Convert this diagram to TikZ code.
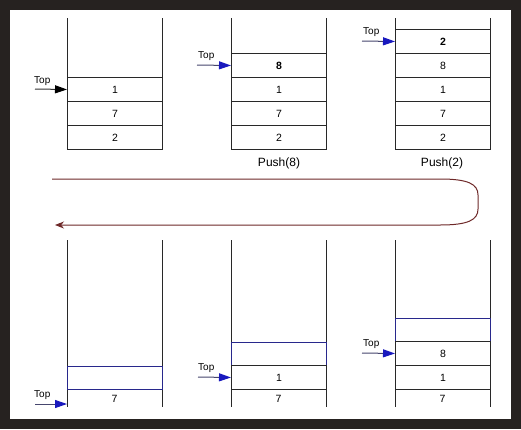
\documentclass[tikz,border=0pt]{standalone}
\usepackage{fontspec}
\setmainfont{Liberation Sans}
\usetikzlibrary{arrows.meta}
\definecolor{framedark}{RGB}{38,34,32}
\definecolor{cellline}{RGB}{40,40,40}
\definecolor{ptrblue}{RGB}{25,25,190}
\definecolor{shaft}{RGB}{70,70,110}
\definecolor{newbox}{RGB}{40,40,140}
\definecolor{loopred}{RGB}{110,40,40}
\tikzset{
  cell/.style={draw=cellline, line width=1pt, minimum width=95pt, minimum height=24pt,
    inner sep=0pt, font=\fontsize{10.5}{12}\selectfont, anchor=north west},
  topcell/.style={cell, font=\fontsize{10.5}{12}\selectfont\bfseries},
  newcell/.style={cell, draw=newbox, line width=1.4pt, minimum height=23pt},
  wall/.style={draw=cellline, line width=1pt},
  val/.style={font=\fontsize{10.5}{12}\selectfont, inner sep=0pt},
  toplbl/.style={font=\fontsize{10}{11}\selectfont, inner sep=0pt, anchor=south west},
  ptr/.style={draw=shaft, line width=1pt, -{Triangle[length=12pt,width=8pt,color=ptrblue]}},
  ptrblack/.style={draw=black!80, line width=1pt, -{Triangle[length=12pt,width=8pt,color=black]}},
  pushlbl/.style={font=\fontsize{12}{14}\selectfont, inner sep=0pt},
  loopline/.style={draw=loopred, line width=1pt, -{Stealth[length=9pt,width=7pt,color=loopred]}}
}
\begin{document}
\begin{tikzpicture}[x=1pt,y=-1pt]
\useasboundingbox (0,0) rectangle (521,429);
\fill[framedark] (0,0) rectangle (521,429);
\fill[white] (10,10) rectangle (511,419);

% ---------- Stack 1 ----------
\coordinate (s1tl) at (67,18); \coordinate (s1bl) at (67,149);
\coordinate (s1tr) at (162,18); \coordinate (s1br) at (162,149);
\draw[wall] (s1tl) -- (s1bl); \draw[wall] (s1tr) -- (s1br);
\node[cell] (a1) at (67,77) {1};
\node[cell] (a2) at (67,101) {7};
\node[cell] (a3) at (67,125) {2};
\coordinate (p1) at (35,89);
\node[toplbl] (t1) at (34,86) {Top};
\draw[ptrblack] (p1) -- (a1.west);

% ---------- Stack 2 ----------
\coordinate (s2tl) at (231,18); \coordinate (s2bl) at (231,149);
\coordinate (s2tr) at (326,18); \coordinate (s2br) at (326,149);
\draw[wall] (s2tl) -- (s2bl); \draw[wall] (s2tr) -- (s2br);
\node[topcell] (b0) at (231,53) {8};
\node[cell] (b1) at (231,77) {1};
\node[cell] (b2) at (231,101) {7};
\node[cell] (b3) at (231,125) {2};
\coordinate (p2) at (197,65);
\node[toplbl] (t2) at (198,61) {Top};
\draw[ptr] (p2) -- (b0.west);
\node[pushlbl] (push8) at (279,163) {Push(8)};

% ---------- Stack 3 ----------
\coordinate (s3tl) at (395,18); \coordinate (s3bl) at (395,149);
\coordinate (s3tr) at (490,18); \coordinate (s3br) at (490,149);
\draw[wall] (s3tl) -- (s3bl); \draw[wall] (s3tr) -- (s3br);
\node[topcell] (c0) at (395,29) {2};
\node[cell] (c1) at (395,53) {8};
\node[cell] (c2) at (395,77) {1};
\node[cell] (c3) at (395,101) {7};
\node[cell] (c4) at (395,125) {2};
\coordinate (p3) at (362,41);
\node[toplbl] (t3) at (363,37) {Top};
\draw[ptr] (p3) -- (c0.west);
\node[pushlbl] (push2) at (442,163) {Push(2)};

% ---------- loop arrow ----------
\coordinate (ls) at (52,179);
\coordinate (le) at (55,225);
\draw[loopline] (ls) -- (440,179) .. controls (468,179) and (478,184) .. (478,195)
  -- (478,209) .. controls (478,220) and (468,225) .. (440,225) -- (le);

% ---------- Stack 4 ----------
\coordinate (s4tl) at (67,240); \coordinate (s4bl) at (67,407);
\coordinate (s4tr) at (162,240); \coordinate (s4br) at (162,407);
\draw[wall] (s4tl) -- (s4bl); \draw[wall] (s4tr) -- (s4br);
\node[newcell] (d0) at (67,366) {};
\node[val] (d1) at (114.5,399) {7};
\coordinate (p4) at (35,404);
\coordinate (p4t) at (67,404);
\node[toplbl] (t4) at (34,400) {Top};
\draw[ptr] (p4) -- (p4t);

% ---------- Stack 5 ----------
\coordinate (s5tl) at (231,240); \coordinate (s5bl) at (231,407);
\coordinate (s5tr) at (326,240); \coordinate (s5br) at (326,407);
\draw[wall] (s5tl) -- (s5bl); \draw[wall] (s5tr) -- (s5br);
\node[newcell] (e0) at (231,342) {};
\node[cell] (e1) at (231,365) {1};
\node[val] (e2) at (278.5,399) {7};
\coordinate (p5) at (198,377);
\node[toplbl] (t5) at (198,373) {Top};
\draw[ptr] (p5) -- (e1.west);

% ---------- Stack 6 ----------
\coordinate (s6tl) at (395,240); \coordinate (s6bl) at (395,407);
\coordinate (s6tr) at (490,240); \coordinate (s6br) at (490,407);
\draw[wall] (s6tl) -- (s6bl); \draw[wall] (s6tr) -- (s6br);
\node[newcell] (f0) at (395,318) {};
\node[cell] (f1) at (395,341) {8};
\node[cell] (f2) at (395,365) {1};
\node[val] (f3) at (442.5,399) {7};
\coordinate (p6) at (362,353);
\node[toplbl] (t6) at (363,349) {Top};
\draw[ptr] (p6) -- (f1.west);
\end{tikzpicture}
\end{document}
